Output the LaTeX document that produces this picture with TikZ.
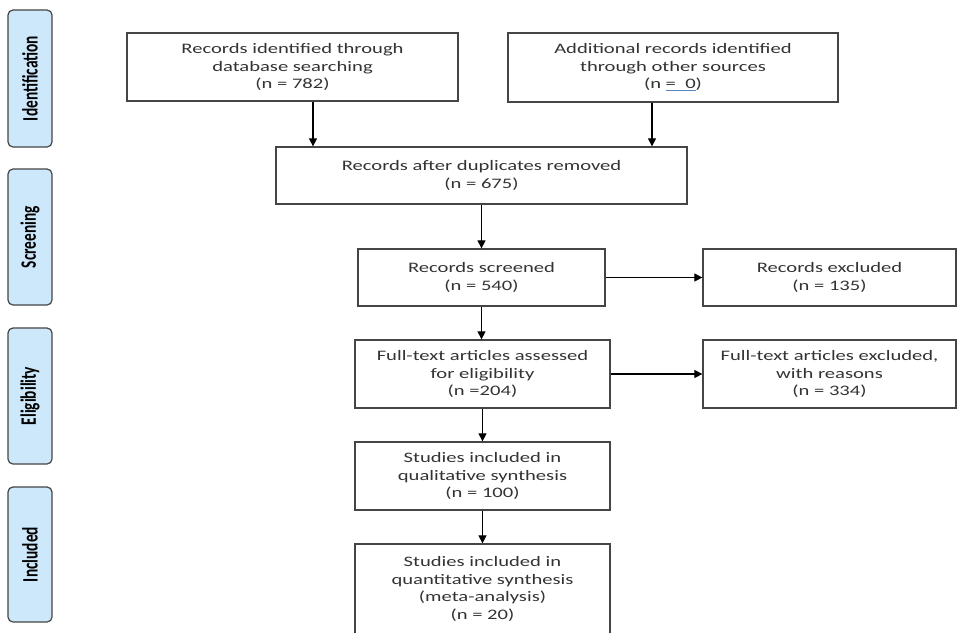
\documentclass[tikz,border=0pt]{standalone}
\usepackage{fontspec}
\setmainfont{Carlito}
\newfontfamily\boxfont[FakeStretch=1.42]{Carlito}
\newfontfamily\labfont[FakeStretch=0.70]{Carlito}
\usetikzlibrary{arrows.meta}
\definecolor{lineg}{HTML}{454545}
\definecolor{txtg}{HTML}{333333}
\definecolor{labfill}{HTML}{CDE8FB}
\definecolor{ulblue}{HTML}{5B86C8}
\newsavebox\myulbox
\newcommand\blueul[1]{\sbox\myulbox{#1}\rlap{\textcolor{ulblue}{\rule[-2.2pt]{\wd\myulbox}{0.8pt}}}\usebox\myulbox}
\begin{document}
\begin{tikzpicture}[x=1pt,y=-1pt,
  flowbox/.style={draw=lineg, line width=1.3pt, fill=white, align=center,
    font=\boxfont\fontsize{14.5}{17.5}\selectfont, text=txtg, inner sep=0pt},
  phase/.style={draw=lineg, line width=1.2pt, fill=labfill, rounded corners=5pt,
    rotate=90, minimum height=44pt, inner sep=0pt,
    font=\labfont\bfseries\fontsize{22}{24}\selectfont, text=black},
  arr/.style={-{Triangle[length=8pt,width=8pt]}, draw=black, line width=1.2pt}]
\useasboundingbox (0,0) rectangle (960,632);
\clip (0,0) rectangle (960,632);
\fill[white] (0,0) rectangle (960,632);

% phase labels
\node[phase, minimum width=137pt] (pid) at (30,78.5) {Identification};
\node[phase, minimum width=136pt] (psc) at (30,237) {Screening};
\node[phase, minimum width=136pt] (pel) at (30,396) {Eligibility};
\node[phase, minimum width=135pt] (pin) at (30,554.5) {Included};

% boxes
\node[flowbox, minimum width=331pt, minimum height=68pt] (A) at (292.5,67)
  {Records identified through\\database searching\\(n = 782)};
\node[flowbox, minimum width=330pt, minimum height=69pt] (B) at (673,67.5)
  {Additional records identified\\through other sources\\(n \blueul{=\ \ 0})};
\node[flowbox, minimum width=411pt, minimum height=57pt] (C) at (481.5,175.5)
  {Records after duplicates removed\\(n = 675)};
\node[flowbox, minimum width=247pt, minimum height=57pt] (D) at (481.5,277.5)
  {Records screened\\(n = 540)};
\node[flowbox, minimum width=253pt, minimum height=57pt] (E) at (829.5,277.5)
  {Records excluded\\(n = 135)};
\node[flowbox, minimum width=255pt, minimum height=68pt] (F) at (482.5,374)
  {Full-text articles assessed\\for eligibility\\(n =204)};
\node[flowbox, minimum width=253pt, minimum height=68pt] (G) at (829.5,374)
  {Full-text articles excluded,\\with reasons\\(n = 334)};
\node[flowbox, minimum width=255pt, minimum height=68pt] (H) at (482.5,476)
  {Studies included in\\qualitative synthesis\\(n = 100)};
\node[flowbox, minimum width=255pt, minimum height=90pt] (I) at (482.5,589)
  {Studies included in\\quantitative synthesis\\(meta-analysis)\\(n = 20)};

% connectors
\draw[arr] ([xshift=20.5pt]A.south) -- ([xshift=20.5pt]A.south |- C.north);
\draw[arr] ([xshift=-21pt]B.south) -- ([xshift=-21pt]B.south |- C.north);
\draw[arr] (C.south) -- (D.north);
\draw[arr] (D.east) -- (E.west);
\draw[arr] (D.south) -- (D.south |- F.north);
\draw[arr] (F.east) -- (G.west);
\draw[arr] (F.south) -- (H.north);
\draw[arr] (H.south) -- (I.north);
\end{tikzpicture}
\end{document}
